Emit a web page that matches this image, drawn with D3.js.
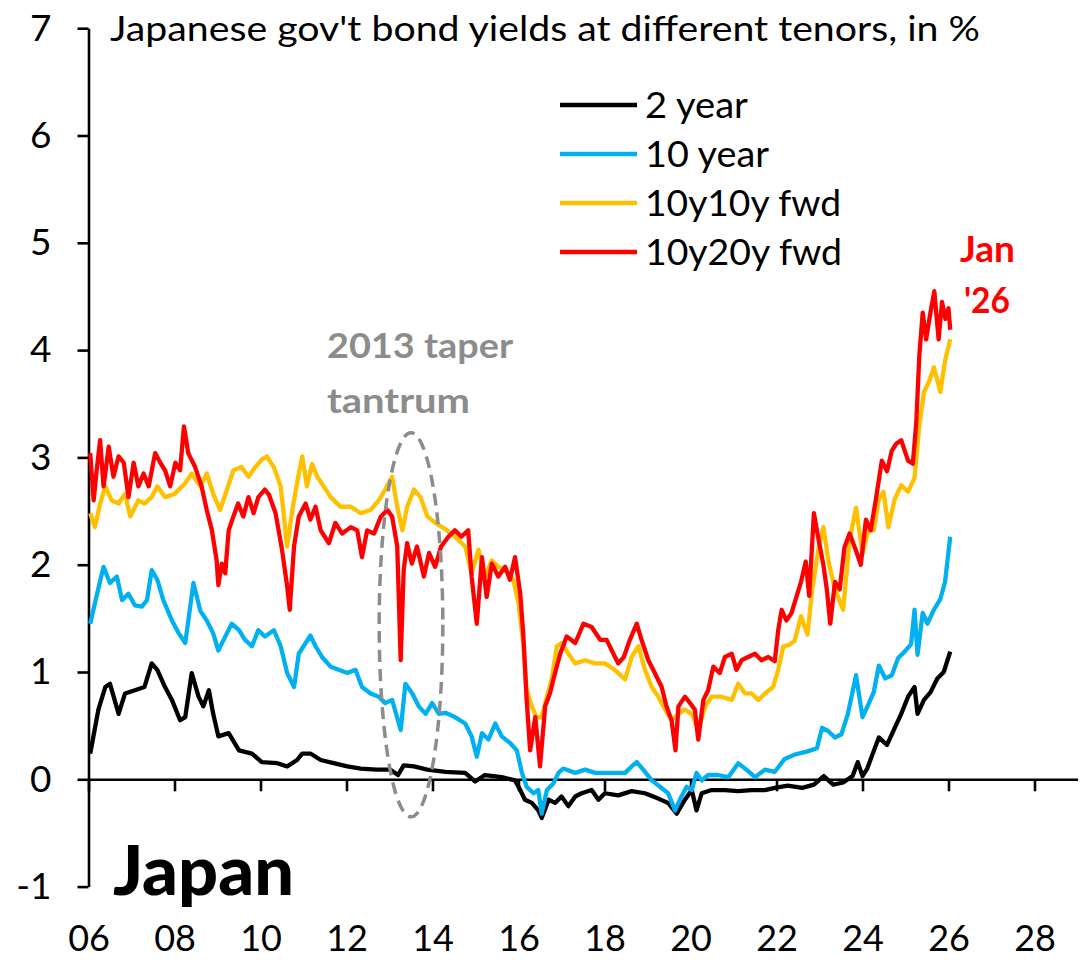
<!DOCTYPE html>
<html><head><meta charset="utf-8">
<script src="https://cdn.jsdelivr.net/npm/d3@7/dist/d3.min.js"></script>
<style>body{margin:0;background:#fff}svg{display:block}</style>
</head><body><svg id="c" width="1091" height="961"></svg>
<script>
// ---- data ----
const xTicks = [2006,2008,2010,2012,2014,2016,2018,2020,2022,2024,2026,2028];
const yTicks = [-1,0,1,2,3,4,5,6,7];
const seriesNames = ["2 year","10 year","10y10y fwd","10y20y fwd"];
const seriesColors = ["#000000","#00B0F0","#FFC000","#FF0000"];

const t2y = [2006.04,2006.23,2006.39,2006.5,2006.7,2006.85,2007.08,2007.3,2007.47,2007.6,2007.78,2007.94,2008.13,2008.25,2008.4,2008.56,2008.67,2008.8,2008.9,2009.02,2009.26,2009.5,2009.8,2010.03,2010.39,2010.62,2010.85,2010.97,2011.16,2011.4,2011.7,2012.02,2012.33,2012.7,2013.02,2013.2,2013.33,2013.57,2013.88,2014.3,2014.76,2014.99,2015.22,2015.61,2015.92,2016.04,2016.15,2016.31,2016.46,2016.54,2016.7,2016.85,2017.0,2017.16,2017.32,2017.47,2017.7,2017.86,2018.01,2018.32,2018.63,2018.94,2019.25,2019.48,2019.68,2019.87,2020.03,2020.14,2020.26,2020.49,2020.8,2021.11,2021.42,2021.73,2021.96,2022.26,2022.6,2022.87,2023.1,2023.32,2023.55,2023.77,2023.89,2024.0,2024.11,2024.23,2024.38,2024.57,2024.75,2024.9,2025.06,2025.21,2025.28,2025.43,2025.58,2025.74,2025.89,2026.04];
const v2y = [0.24,0.65,0.86,0.89,0.61,0.80,0.83,0.86,1.08,1.02,0.86,0.74,0.55,0.58,0.99,0.77,0.68,0.83,0.61,0.40,0.43,0.27,0.24,0.16,0.15,0.12,0.18,0.24,0.24,0.18,0.15,0.12,0.10,0.09,0.09,0.04,0.13,0.12,0.09,0.07,0.06,-0.02,0.04,0.02,-0.01,-0.10,-0.19,-0.22,-0.29,-0.36,-0.19,-0.22,-0.16,-0.25,-0.16,-0.13,-0.10,-0.19,-0.13,-0.15,-0.11,-0.13,-0.18,-0.22,-0.32,-0.19,-0.10,-0.29,-0.13,-0.10,-0.10,-0.11,-0.10,-0.10,-0.08,-0.06,-0.08,-0.05,0.03,-0.05,-0.03,0.03,0.16,0.03,0.10,0.23,0.39,0.32,0.48,0.61,0.77,0.86,0.61,0.74,0.81,0.94,1.00,1.19];

const t10y = [2006.04,2006.2,2006.35,2006.5,2006.66,2006.78,2006.93,2007.08,2007.24,2007.36,2007.47,2007.6,2007.74,2007.94,2008.1,2008.25,2008.44,2008.6,2008.75,2008.9,2009.02,2009.18,2009.33,2009.5,2009.64,2009.8,2009.95,2010.1,2010.31,2010.47,2010.62,2010.78,2010.89,2011.05,2011.16,2011.28,2011.43,2011.63,2011.82,2012.02,2012.21,2012.36,2012.56,2012.75,2012.9,2013.06,2013.26,2013.37,2013.53,2013.68,2013.84,2013.99,2014.15,2014.3,2014.52,2014.76,2014.91,2015.03,2015.15,2015.3,2015.46,2015.61,2015.8,2015.96,2016.08,2016.19,2016.35,2016.46,2016.54,2016.66,2016.81,2016.93,2017.04,2017.32,2017.55,2017.78,2018.09,2018.48,2018.63,2018.75,2018.9,2019.1,2019.29,2019.48,2019.64,2019.79,2019.91,2020.03,2020.14,2020.26,2020.41,2020.64,2020.88,2021.11,2021.3,2021.5,2021.73,2021.96,2022.19,2022.42,2022.72,2022.94,2023.06,2023.2,2023.36,2023.51,2023.66,2023.85,2024.0,2024.15,2024.26,2024.38,2024.53,2024.68,2024.83,2024.98,2025.13,2025.21,2025.28,2025.4,2025.51,2025.66,2025.81,2025.92,2026.04];
const v10y = [1.45,1.73,1.98,1.83,1.89,1.67,1.73,1.62,1.61,1.67,1.95,1.86,1.67,1.48,1.36,1.27,1.83,1.57,1.48,1.36,1.20,1.33,1.45,1.39,1.30,1.24,1.39,1.33,1.39,1.24,0.99,0.86,1.17,1.27,1.34,1.24,1.14,1.05,1.02,0.99,1.02,0.86,0.80,0.77,0.71,0.74,0.46,0.89,0.80,0.68,0.61,0.71,0.61,0.62,0.58,0.52,0.40,0.21,0.43,0.37,0.52,0.40,0.34,0.27,0.06,-0.07,-0.13,-0.10,-0.32,-0.10,-0.04,0.06,0.10,0.06,0.09,0.06,0.06,0.06,0.12,0.16,0.09,-0.01,-0.07,-0.13,-0.29,-0.16,-0.07,-0.10,0.06,-0.01,0.04,0.04,0.02,0.15,0.09,0.02,0.09,0.07,0.19,0.23,0.26,0.29,0.48,0.45,0.39,0.42,0.61,0.97,0.58,0.71,0.81,1.06,0.94,0.97,1.13,1.19,1.26,1.58,1.16,1.55,1.45,1.58,1.68,1.84,2.26];

const t10y10y = [2006.04,2006.15,2006.27,2006.39,2006.54,2006.7,2006.85,2006.97,2007.16,2007.3,2007.47,2007.6,2007.78,2008.0,2008.25,2008.4,2008.6,2008.75,2008.9,2009.06,2009.22,2009.37,2009.56,2009.72,2009.88,2010.03,2010.15,2010.31,2010.47,2010.62,2010.74,2010.85,2010.97,2011.08,2011.2,2011.32,2011.47,2011.63,2011.86,2012.1,2012.33,2012.56,2012.75,2012.9,2013.06,2013.18,2013.3,2013.41,2013.57,2013.72,2013.88,2014.07,2014.3,2014.52,2014.76,2014.91,2015.07,2015.22,2015.38,2015.53,2015.69,2015.88,2016.0,2016.11,2016.19,2016.31,2016.42,2016.54,2016.66,2016.77,2016.89,2017.0,2017.16,2017.32,2017.55,2017.78,2018.01,2018.24,2018.48,2018.63,2018.79,2018.94,2019.1,2019.25,2019.41,2019.56,2019.72,2019.87,2020.03,2020.18,2020.34,2020.49,2020.72,2020.96,2021.11,2021.27,2021.42,2021.58,2021.73,2021.92,2022.04,2022.16,2022.28,2022.42,2022.57,2022.72,2022.83,2022.98,2023.09,2023.21,2023.36,2023.55,2023.7,2023.85,2024.0,2024.15,2024.26,2024.38,2024.49,2024.6,2024.75,2024.9,2025.06,2025.21,2025.32,2025.43,2025.55,2025.66,2025.81,2025.92,2026.04];
const v10y10y = [2.48,2.35,2.57,2.73,2.60,2.57,2.66,2.45,2.60,2.57,2.63,2.73,2.63,2.66,2.76,2.85,2.73,2.85,2.66,2.51,2.70,2.88,2.91,2.82,2.91,2.98,3.01,2.91,2.73,2.17,2.51,2.76,3.01,2.73,2.94,2.82,2.73,2.63,2.54,2.54,2.48,2.51,2.60,2.70,2.82,2.54,2.32,2.54,2.70,2.63,2.45,2.39,2.33,2.26,2.17,1.92,2.14,1.89,2.04,1.98,1.95,1.86,1.64,1.27,0.83,0.68,0.58,0.58,0.77,0.93,1.24,1.27,1.17,1.08,1.11,1.08,1.08,1.02,0.93,1.14,1.24,1.02,0.86,0.77,0.65,0.55,0.61,0.65,0.61,0.46,0.68,0.77,0.77,0.74,0.89,0.80,0.80,0.74,0.80,0.86,1.02,1.24,1.25,1.29,1.52,1.35,1.77,2.16,2.35,2.03,1.77,1.58,2.23,2.53,2.10,2.35,2.32,2.61,2.68,2.35,2.61,2.74,2.68,2.81,3.29,3.61,3.71,3.84,3.61,3.90,4.10];

const t10y20y = [2006.04,2006.12,2006.19,2006.27,2006.35,2006.47,2006.58,2006.7,2006.82,2006.93,2007.05,2007.16,2007.28,2007.4,2007.55,2007.67,2007.78,2007.9,2008.02,2008.13,2008.22,2008.32,2008.48,2008.63,2008.75,2008.87,2008.98,2009.02,2009.1,2009.18,2009.26,2009.37,2009.48,2009.6,2009.72,2009.84,2009.95,2010.1,2010.2,2010.35,2010.5,2010.62,2010.68,2010.78,2010.89,2011.05,2011.16,2011.28,2011.4,2011.59,2011.74,2011.9,2012.1,2012.25,2012.36,2012.48,2012.64,2012.8,2012.95,2013.06,2013.18,2013.26,2013.33,2013.41,2013.52,2013.64,2013.8,2013.92,2014.06,2014.2,2014.37,2014.52,2014.67,2014.83,2014.91,2015.03,2015.15,2015.26,2015.38,2015.53,2015.69,2015.8,2015.92,2016.04,2016.11,2016.19,2016.27,2016.39,2016.5,2016.62,2016.73,2016.85,2016.97,2017.12,2017.32,2017.51,2017.7,2017.9,2018.05,2018.17,2018.32,2018.45,2018.59,2018.75,2018.86,2019.02,2019.17,2019.33,2019.44,2019.56,2019.65,2019.72,2019.87,2019.99,2020.1,2020.18,2020.3,2020.41,2020.53,2020.68,2020.8,2020.96,2021.07,2021.19,2021.34,2021.5,2021.65,2021.81,2021.96,2022.04,2022.12,2022.23,2022.35,2022.57,2022.68,2022.76,2022.87,2022.98,2023.09,2023.17,2023.25,2023.36,2023.47,2023.58,2023.7,2023.85,2023.96,2024.08,2024.19,2024.3,2024.45,2024.57,2024.68,2024.79,2024.9,2025.06,2025.17,2025.25,2025.32,2025.4,2025.48,2025.58,2025.67,2025.77,2025.85,2025.93,2026.0,2026.04];
const v10y20y = [3.04,2.60,2.88,3.16,2.73,3.10,2.82,3.01,2.95,2.63,2.95,2.73,2.85,2.73,3.04,2.95,2.88,2.73,2.95,2.88,3.29,3.04,2.91,2.73,2.51,2.32,2.04,1.81,2.01,1.92,2.32,2.45,2.57,2.45,2.63,2.48,2.63,2.70,2.65,2.48,2.14,1.80,1.58,2.17,2.45,2.57,2.42,2.54,2.32,2.20,2.39,2.29,2.35,2.32,2.07,2.32,2.29,2.45,2.51,2.45,2.17,1.11,1.95,2.20,2.01,2.17,1.89,2.11,1.98,2.17,2.26,2.32,2.26,2.32,1.89,1.45,2.07,1.70,2.01,1.89,1.98,1.86,2.07,1.73,1.36,0.74,0.27,0.58,0.12,0.68,0.80,0.99,1.17,1.33,1.27,1.45,1.42,1.30,1.30,1.20,1.08,1.14,1.30,1.45,1.30,1.11,0.99,0.86,0.68,0.55,0.27,0.68,0.77,0.71,0.65,0.37,0.74,0.83,1.05,0.99,1.14,1.17,1.02,1.11,1.14,1.17,1.11,1.14,1.10,1.39,1.58,1.48,1.55,1.84,2.03,1.71,2.48,2.23,2.00,1.77,1.45,1.84,1.77,2.16,2.29,2.13,2.00,2.42,2.32,2.58,2.97,2.87,3.06,3.13,3.16,2.97,2.94,3.32,3.94,4.35,4.10,4.35,4.55,4.10,4.45,4.29,4.39,4.19];

const seriesT = [t2y, t10y, t10y10y, t10y20y];
const seriesV = [v2y, v10y, v10y10y, v10y20y];

// ---- drawing ----
const svg = d3.select("#c");
const x = d3.scaleLinear().domain([2006, 2029]).range([88.5, 1077.5]);
const y = d3.scaleLinear().domain([-1, 7]).range([886.6, 28.2]);
const FONT = "Lato, 'Open Sans', sans-serif";

// Title
svg.append("text").attr("x", 110).attr("y", 41)
  .attr("font-family", FONT).attr("font-size", 35).attr("fill", "#000")
  .attr("textLength", 870).attr("lengthAdjust", "spacingAndGlyphs")
  .text("Japanese gov't bond yields at different tenors, in %");

// Y axis
const yAx = svg.append("g").attr("transform", `translate(${x(2006)},0)`)
  .call(d3.axisLeft(y).tickValues(yTicks).tickFormat(d => String(d)).tickSize(11).tickSizeOuter(0).tickPadding(26));
yAx.select(".domain").attr("stroke", "#000").attr("stroke-width", 2.6);
yAx.selectAll(".tick line").attr("stroke", "#000").attr("stroke-width", 2.6);
yAx.selectAll(".tick text").attr("font-family", FONT).attr("font-size", 37).attr("fill", "#000");

// X axis at zero
const xAx = svg.append("g").attr("transform", `translate(0,${y(0)})`)
  .call(d3.axisBottom(x).tickValues(xTicks).tickFormat(d => String(d % 100).padStart(2, "0")).tickSize(12).tickSizeOuter(0).tickPadding(134));
xAx.select(".domain").attr("stroke", "#000").attr("stroke-width", 2.6);
xAx.selectAll(".tick line").attr("stroke", "#000").attr("stroke-width", 2.6);
xAx.selectAll(".tick text").attr("font-family", FONT).attr("font-size", 36).attr("fill", "#000");

// Series
const line = d3.line().x(d => x(d[0])).y(d => y(d[1]));
seriesT.forEach((ts, i) => {
  const pts = ts.map((t, j) => [t, seriesV[i][j]]);
  svg.append("path").datum(pts).attr("d", line)
    .attr("fill", "none").attr("stroke", seriesColors[i])
    .attr("stroke-width", 4.3).attr("stroke-linejoin", "round");
});

// Legend
const legY = [105, 154, 203, 252];
const legW = [103, 124, 196, 197];
seriesNames.forEach((n, i) => {
  svg.append("line").attr("x1", 560).attr("x2", 637).attr("y1", legY[i]).attr("y2", legY[i])
    .attr("stroke", seriesColors[i]).attr("stroke-width", 4.3);
  svg.append("text").attr("x", 645).attr("y", legY[i] + 13)
    .attr("font-family", FONT).attr("font-size", 36).attr("fill", "#000")
    .attr("textLength", legW[i]).attr("lengthAdjust", "spacingAndGlyphs").text(n);
});

// Jan '26
svg.append("text").attr("x", 960).attr("y", 262).attr("font-family", FONT).attr("font-weight", 700)
  .attr("font-size", 36).attr("fill", "#FF0000").attr("textLength", 55).attr("lengthAdjust", "spacingAndGlyphs").text("Jan");
svg.append("text").attr("x", 964).attr("y", 313).attr("font-family", FONT).attr("font-weight", 700)
  .attr("font-size", 36).attr("fill", "#FF0000").attr("textLength", 46).attr("lengthAdjust", "spacingAndGlyphs").text("'26");

// Taper tantrum annotation
svg.append("text").attr("x", 327).attr("y", 358).attr("font-family", FONT).attr("font-weight", 700)
  .attr("font-size", 35).attr("fill", "#8C8C8C").attr("textLength", 186).attr("lengthAdjust", "spacingAndGlyphs").text("2013 taper");
svg.append("text").attr("x", 327).attr("y", 413).attr("font-family", FONT).attr("font-weight", 700)
  .attr("font-size", 35).attr("fill", "#8C8C8C").attr("textLength", 143).attr("lengthAdjust", "spacingAndGlyphs").text("tantrum");
svg.append("ellipse")
  .attr("cx", x(2013.5)).attr("cy", y(1.44))
  .attr("rx", x(2014.24) - x(2013.5)).attr("ry", y(-0.35) - y(1.44))
  .attr("fill", "none").attr("stroke", "#8C8C8C").attr("stroke-width", 3.5).attr("stroke-dasharray", "12,7");

// Japan label
svg.append("text").attr("x", 113).attr("y", 895).attr("font-family", FONT).attr("font-weight", 900)
  .attr("font-size", 68).attr("fill", "#000").attr("textLength", 181).attr("lengthAdjust", "spacingAndGlyphs").text("Japan");
</script></body></html>
